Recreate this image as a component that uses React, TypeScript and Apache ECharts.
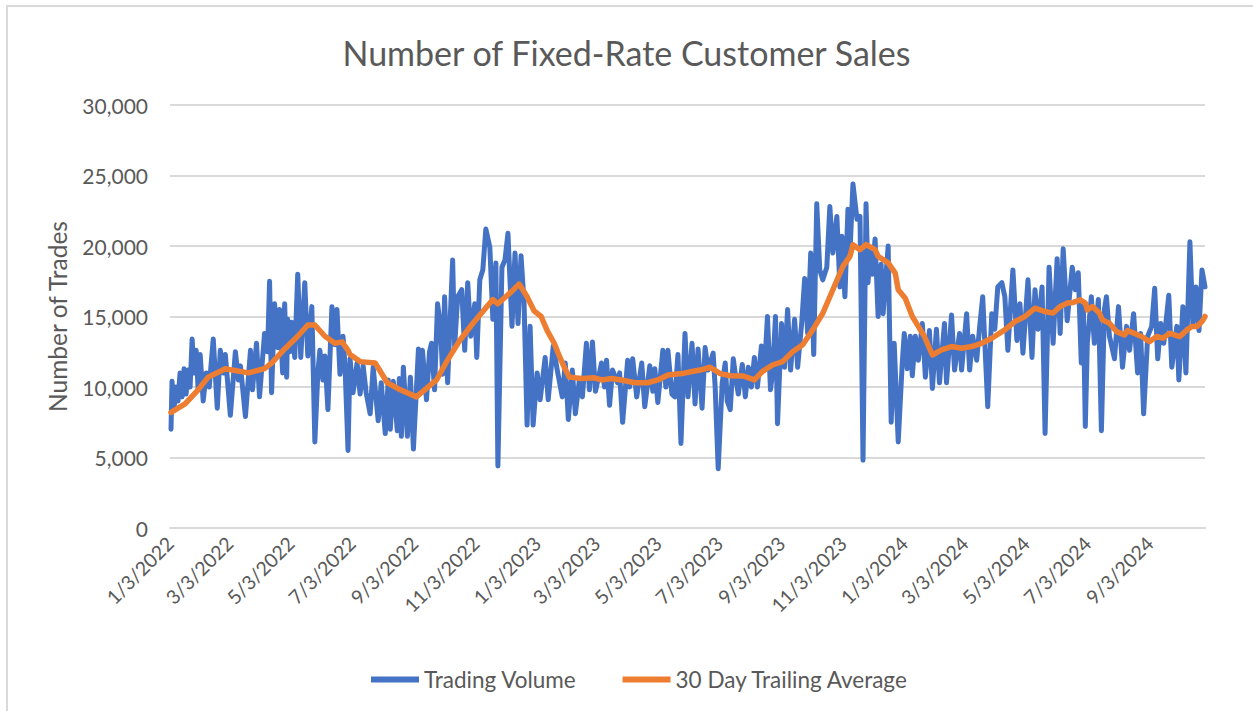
import React, { useEffect, useRef } from "react";
import * as echarts from "echarts";

// Dates are stored as days since 1/3/2022
const START_DATE = "1/3/2022";

const tickLabels = [
  "1/3/2022", "3/3/2022", "5/3/2022", "7/3/2022", "9/3/2022", "11/3/2022",
  "1/3/2023", "3/3/2023", "5/3/2023", "7/3/2023", "9/3/2023", "11/3/2023",
  "1/3/2024", "3/3/2024", "5/3/2024", "7/3/2024", "9/3/2024",
];

const yTicks = [0, 5000, 10000, 15000, 20000, 25000, 30000];

const volumeDays = [
  1, 2, 4, 6, 8, 10, 12, 14, 16, 18, 20, 22, 24, 26, 28, 30, 33, 36, 39, 43, 47, 50, 53, 55, 60, 65, 68, 70, 75, 80,
  82, 86, 89, 94, 97, 99, 101, 104, 107, 109, 112, 114, 116, 117, 119, 121, 124, 127, 130, 134, 137, 141, 144, 147, 149, 152, 154, 157, 161, 164,
  166, 169, 172, 174, 177, 179, 182, 186, 189, 192, 195, 199, 202, 207, 210, 214, 217, 219, 222, 226, 228, 230, 232, 236, 239, 242, 247, 249, 251, 255,
  258, 260, 263, 266, 269, 271, 273, 276, 281, 283, 286, 290, 293, 296, 299, 303, 305, 308, 311, 314, 318, 321, 324, 326, 330, 333, 336, 340, 343, 346,
  349, 352, 355, 358, 361, 365, 368, 373, 376, 381, 385, 390, 393, 396, 400, 403, 407, 410, 414, 417, 420, 423, 427, 429, 432, 434, 437, 440, 445, 447,
  450, 455, 457, 460, 464, 469, 472, 477, 480, 482, 485, 490, 493, 495, 499, 502, 505, 508, 512, 515, 519, 522, 525, 529, 532, 535, 540, 542, 545, 549,
  552, 554, 557, 560, 563, 565, 569, 572, 575, 578, 581, 584, 588, 591, 594, 597, 599, 602, 604, 608, 611, 614, 617, 621, 624, 628, 631, 634, 637, 640,
  643, 646, 649, 653, 656, 659, 663, 666, 668, 671, 674, 676, 679, 683, 686, 689, 692, 694, 696, 698, 701, 704, 707, 709, 714, 717, 720, 724, 728, 730,
  733, 736, 738, 741, 744, 748, 751, 755, 758, 762, 765, 770, 772, 777, 780, 785, 787, 792, 795, 798, 802, 805, 808, 813, 817, 820, 823, 827, 830, 833,
  838, 842, 845, 848, 853, 857, 860, 863, 867, 870, 874, 878, 882, 885, 888, 892, 897, 900, 903, 906, 908, 910, 912, 916, 919, 923, 926, 929, 931, 934,
  939, 943, 947, 951, 954, 958, 962, 965, 968, 972, 976, 979, 982, 985, 988, 993, 996, 1001, 1003, 1007, 1010, 1014, 1017, 1020, 1023, 1026, 1029,
];

const volumeValues = [
  7000, 10400, 8500, 10000, 9000, 11000, 9300, 11300, 9500, 11200, 10000, 13400, 11000, 12600, 9800, 12300, 9000, 11000, 10000, 13400, 8500, 12600, 11000, 12300, 8000, 12500, 10500, 11500, 7900, 12600,
  9800, 13100, 9300, 13800, 12500, 17500, 9600, 15900, 12800, 15500, 11000, 15900, 10700, 14800, 12500, 14600, 12100, 18000, 12100, 17400, 12200, 15700, 6100, 11000, 12600, 10500, 12200, 8400, 15700, 13000,
  15500, 10900, 13600, 11500, 5500, 12000, 9600, 11700, 9500, 11500, 9600, 8100, 11400, 7600, 10300, 6700, 10500, 7000, 10400, 6900, 10600, 6500, 11400, 6500, 10700, 5600, 12700, 9700, 12600, 9100,
  12500, 13100, 9800, 15900, 14300, 10900, 16400, 10300, 19000, 12900, 16400, 16900, 12600, 17400, 13600, 15900, 12100, 17600, 18300, 21200, 19900, 14800, 18800, 4400, 18500, 19000, 20900, 14300, 19500, 14500,
  19300, 16000, 7300, 14300, 7300, 11000, 9100, 12100, 9100, 12900, 11200, 9300, 11700, 7700, 11200, 8100, 10500, 9300, 13100, 9800, 13200, 9700, 11000, 11700, 10000, 11900, 8700, 11200, 10300, 11000,
  7500, 11900, 10000, 12000, 9300, 11700, 8600, 11500, 9700, 11300, 8900, 12600, 10000, 12600, 9500, 9300, 12300, 6000, 13800, 9300, 13100, 8800, 12700, 8500, 12800, 11200, 12400, 10000, 4200, 10300,
  11700, 9000, 8400, 12000, 10400, 9500, 11600, 9300, 11400, 10000, 12100, 10000, 12900, 11200, 15000, 9800, 11000, 15000, 7400, 14500, 11400, 15500, 11200, 14800, 11400, 14500, 17700, 13800, 19500, 12300,
  23000, 18300, 17600, 18500, 22800, 19500, 22100, 17100, 20700, 16400, 22600, 19500, 24400, 21900, 22100, 4800, 23000, 17400, 19800, 18000, 20500, 15000, 18700, 15200, 20000, 7500, 13100, 6100, 11700, 13800,
  11300, 13600, 10800, 13600, 11900, 14500, 10700, 14000, 9900, 14100, 10300, 14500, 10300, 15100, 11200, 13800, 11200, 15200, 11200, 13600, 11900, 14300, 16400, 8600, 15200, 14100, 17100, 17400, 16400, 12600,
  18300, 13300, 15900, 12400, 17600, 12100, 16900, 14100, 17100, 6700, 18500, 13100, 19100, 13800, 19800, 14700, 18500, 16900, 18100, 11700, 15900, 7200, 13100, 16400, 13100, 16200, 6900, 15500, 16400, 13600,
  12000, 15700, 11400, 14300, 12600, 15200, 11000, 13800, 8100, 13600, 14300, 17000, 12000, 14500, 13100, 16500, 11400, 14300, 10500, 15700, 11000, 20300, 14300, 17100, 14000, 18300, 17100,
];

const avgDays = [
  1, 15, 28, 38, 55, 62, 78, 94, 101, 114, 127, 137, 144, 154, 164, 171, 177, 179, 189, 204, 216, 229, 245, 265, 275, 288, 301, 321, 326, 340,
  347, 349, 355, 362, 369, 375, 382, 387, 392, 397, 409, 422, 429, 439, 449, 462, 475, 485, 495, 509, 519, 527, 537, 547, 557, 570, 581, 589, 599, 609,
  619, 629, 639, 649, 659, 669, 676, 679, 686, 692, 701, 704, 714, 721, 724, 731, 738, 744, 750, 758, 767, 777, 787, 797, 807, 817, 830, 840, 850, 860,
  870, 878, 885, 892, 898, 905, 910, 912, 917, 924, 927, 934, 941, 949, 952, 959, 966, 974, 981, 987, 994, 1004, 1011, 1016, 1021, 1026, 1029,
];

const avgValues = [
  8200, 8800, 9800, 10700, 11300, 11200, 11000, 11300, 11700, 12700, 13600, 14400, 14400, 13600, 13100, 13200, 12600, 12300, 11800, 11700, 10300, 9800, 9300, 10500, 11800, 13300, 14500, 16200, 15900, 16800,
  17300, 17100, 16400, 15400, 15000, 14000, 13100, 12200, 11400, 10700, 10600, 10650, 10500, 10600, 10500, 10300, 10300, 10500, 10850, 10950, 11100, 11200, 11400, 10950, 10800, 10780, 10500, 11100, 11560, 11800,
  12500, 13000, 14050, 15230, 16900, 18550, 19260, 20090, 19740, 20100, 19740, 19260, 18800, 18080, 16900, 16300, 15000, 14300, 13580, 12270, 12630, 12870, 12750, 12870, 13100, 13460, 14050, 14640, 15000, 15590,
  15350, 15240, 15710, 15950, 16000, 16180, 15950, 15470, 15710, 15240, 14760, 14520, 13930, 13700, 14000, 13800, 13580, 13220, 13580, 13460, 13810, 13580, 14050, 14290, 14290, 14640, 15000,
];

const dayOf = (s: string) => {
  const [m, d, y] = s.split("/").map(Number);
  const [m0, d0, y0] = START_DATE.split("/").map(Number);
  return Math.round((Date.UTC(y, m - 1, d) - Date.UTC(y0, m0 - 1, d0)) / 86400000);
};

const TEXT = "#595959";
const FONT = "Lato, 'Open Sans', sans-serif";

export default function App() {
  const ref = useRef<HTMLDivElement>(null);
  useEffect(() => {
    if (!ref.current) return;
    const chart = echarts.init(ref.current, undefined, { renderer: "svg" });
    const tickDays = tickLabels.map(dayOf);
    const labelByDay: Record<number, string> = {};
    tickLabels.forEach((t) => (labelByDay[dayOf(t)] = t));
    const lastDay = Math.max(volumeDays[volumeDays.length - 1], avgDays[avgDays.length - 1]);
    chart.setOption({
      animation: false,
      textStyle: { fontFamily: FONT },
      graphic: [
        {
          type: "rect",
          shape: { x: 7, y: 6, width: 1300, height: 800 },
          style: { fill: "none", stroke: "#d9d9d9", lineWidth: 2 },
          silent: true,
        },
      ],
      title: {
        text: "Number of Fixed-Rate Customer Sales",
        left: "center",
        top: 30,
        textStyle: { color: TEXT, fontSize: 34, fontWeight: "normal", fontFamily: FONT },
      },
      legend: {
        bottom: 15,
        left: 366,
        icon: "rect",
        itemWidth: 48,
        itemHeight: 6,
        itemGap: 46,
        textStyle: { color: TEXT, fontSize: 22.5, fontFamily: FONT },
        data: ["Trading Volume", "30 Day Trailing Average"],
      },
      grid: { left: 170, right: 48, top: 105, bottom: 183, containLabel: false },
      xAxis: {
        type: "value",
        min: 0,
        max: lastDay,
        axisLine: { show: true, lineStyle: { color: "#d9d9d9", width: 2 } },
        axisTick: { show: false },
        splitLine: { show: false },
        axisLabel: {
          customValues: tickDays,
          rotate: 45,
          margin: 12,
          color: TEXT,
          fontSize: 19.5,
          fontFamily: FONT,
          formatter: (v: number) => labelByDay[Math.round(v)] ?? "",
        },
      },
      yAxis: {
        type: "value",
        min: yTicks[0],
        max: yTicks[yTicks.length - 1],
        interval: yTicks[1] - yTicks[0],
        name: "Number of Trades",
        nameLocation: "middle",
        nameGap: 100,
        nameTextStyle: { color: TEXT, fontSize: 24.5, fontFamily: FONT },
        axisLine: { show: false },
        axisTick: { show: false },
        splitLine: { lineStyle: { color: "#d9d9d9", width: 2 } },
        axisLabel: {
          color: TEXT,
          fontSize: 21,
          margin: 22,
          fontFamily: FONT,
          formatter: (v: number) => v.toLocaleString("en-US"),
        },
      },
      series: [
        {
          name: "Trading Volume",
          type: "line",
          symbol: "none",
          showSymbol: false,
          color: "#4472C4",
          lineStyle: { color: "#4472C4", width: 5, join: "round", cap: "round" },
          data: volumeDays.map((d, i) => [d, volumeValues[i]]),
          z: 2,
        },
        {
          name: "30 Day Trailing Average",
          type: "line",
          symbol: "none",
          showSymbol: false,
          color: "#ED7D31",
          lineStyle: { color: "#ED7D31", width: 5.5, join: "round", cap: "round" },
          data: avgDays.map((d, i) => [d, avgValues[i]]),
          z: 3,
        },
      ],
    });
    return () => chart.dispose();
  }, []);
  return (
    <div
      ref={ref}
      style={{ position: "fixed", left: 0, top: 0, width: 1253, height: 711, background: "#fff" }}
    />
  );
}
